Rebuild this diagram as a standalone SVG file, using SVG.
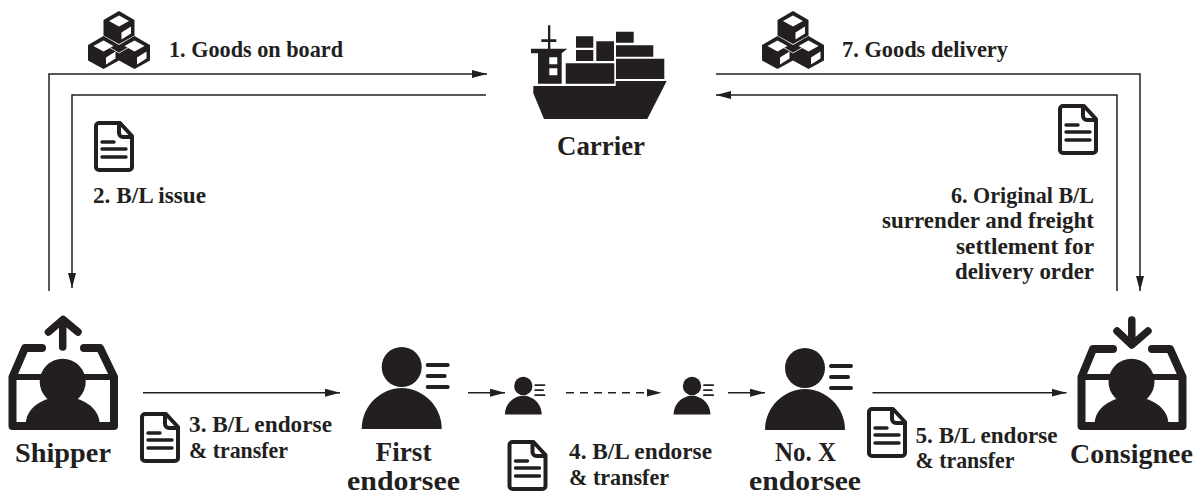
<svg xmlns="http://www.w3.org/2000/svg" xmlns:xlink="http://www.w3.org/1999/xlink" width="1200" height="496" viewBox="0 0 1200 496">
<style>
text{font-family:"Liberation Serif","DejaVu Serif",serif;font-weight:700;fill:#231f20;font-size:23px}
.n{font-size:27px}
.c{fill:none;stroke:#231f20;stroke-width:1.5}
.d{stroke-dasharray:8 6}
.k{fill:#231f20}
.w{fill:#fff}
.box{fill:none;stroke:#231f20;stroke-width:8;stroke-linecap:round;stroke-linejoin:round}
.fr{fill:none;stroke:#231f20;stroke-width:6}
.ar{fill:none;stroke:#231f20;stroke-width:7.500;stroke-linecap:round;stroke-linejoin:round}
</style>
<defs>
<marker id="a" markerUnits="userSpaceOnUse" markerWidth="16" markerHeight="10" refX="15" refY="4" orient="auto"><path d="M0,0L15,4L0,8z" fill="#231f20"/></marker>
<g id="doc">
<path d="M5,2H26L38,15V46a3,3 0 0 1-3,3H5a3,3 0 0 1-3-3V5a3,3 0 0 1 3-3z M25,3V12a4,4 0 0 0 4,4H38" fill="none" stroke="#231f20" stroke-width="4" stroke-linejoin="round"/>
<path d="M8,21H20M8,28H32M8,36H32" fill="none" stroke="#231f20" stroke-width="3.400" stroke-linecap="round"/>
</g>
<g id="cube">
<path class="k" d="M0,-16.500L15.500,-7.500V8L0,16.500L-15.500,8V-7.500z"/>
<path class="w" d="M0,-12L10,-6.500L0,-1L-10,-6.500z"/>
<path class="w" d="M2.500,5L12,-1V6L2.500,12z"/>
</g>
<g id="cubes">
<use xlink:href="#cube" x="15.500" y="41.500"/>
<use xlink:href="#cube" x="46.500" y="41.500"/>
<use xlink:href="#cube" x="31" y="16.500"/>
<path d="M15.500,33L31,42L46.500,33" fill="none" stroke="#fff" stroke-width="0.800"/>
</g>
<g id="person">
<circle class="k" r="20"/>
<path class="k" d="M-40,62C-40,38-20,21 0,21C20,21 40,38 40,62z"/>
<path d="M26,-2H46M26,9H43M26,20H46" fill="none" stroke="#231f20" stroke-width="4" stroke-linecap="round"/>
</g>
<g id="boxp">
<circle class="k" r="23"/>
<path class="k" d="M-37,43C-37,26-20,15 0,15C20,15 37,26 37,43z"/>
</g>
</defs>
<rect width="1200" height="496" fill="#fff"/>
<g id="connectors">
<path class="c" d="M49,291V74H487" marker-end="url(#a)"/>
<path class="c" d="M486,95H72V288" marker-end="url(#a)"/>
<path class="c" d="M716,74H1140V291" marker-end="url(#a)"/>
<path class="c" d="M1117,291V95H716" marker-end="url(#a)"/>
<path class="c" d="M143,392.700H340" marker-end="url(#a)"/>
<path class="c" d="M468,392.700H505" marker-end="url(#a)"/>
<path class="c d" d="M566,392.700H661.500" marker-end="url(#a)"/>
<path class="c" d="M728,392.700H765" marker-end="url(#a)"/>
<path class="c" d="M872.500,392.700H1066.500" marker-end="url(#a)"/>
</g>
<g id="carrier">
<path class="k" d="M533.300,86H615.700V81H666.700L647.300,119H544L533.300,93.300z"/>
<path class="k" d="M565.700,63.300H614.300V83.700H565.700zM616,58.700H664.300V79H616zM616,45.300H653.300V56.700H616zM616,31.700H633.700V42.700H616zM596.300,41.300H614V61H596.300zM576,36.300H593.300V47.700H576zM576,50H593.300V61H576z"/>
<path class="k" d="M548,25.300H550.300V39.300H556.300V42H550.300V48.700H567.300L561.700,53.300V83.700H538V53.300H531V48.700H548V42H541.300V39.300H548z"/>
<path class="w" d="M549.300,57.300H557.300V64.300H549.300zM549.300,68.300H557.300V75.300H549.300z"/>
<text x="557" y="155" class="n" textLength="88" lengthAdjust="spacingAndGlyphs">Carrier</text>
</g>
<g id="shipper">
<path class="box" d="M42,348H25L12.500,377V426H114V377L100,348H84"/>
<path class="fr" d="M12.500,377H114"/>
<use xlink:href="#boxp" x="62.700" y="381.700"/>
<path class="ar" d="M62.700,347V321M48.500,332L63,319.500L78,332"/>
<text x="15" y="462" class="n" textLength="96" lengthAdjust="spacingAndGlyphs">Shipper</text>
</g>
<g id="first-endorsee">
<use xlink:href="#person" transform="translate(401.700,367)"/>
<text x="375.500" y="461" class="n" textLength="56" lengthAdjust="spacingAndGlyphs">First</text>
<text x="347" y="490" class="n" textLength="113" lengthAdjust="spacingAndGlyphs">endorsee</text>
</g>
<g id="intermediate-1"><use xlink:href="#person" transform="translate(523.300,386) scale(0.460)"/></g>
<g id="intermediate-2"><use xlink:href="#person" transform="translate(692,386) scale(0.460)"/></g>
<g id="no-x-endorsee">
<use xlink:href="#person" transform="translate(805,368)"/>
<text x="775" y="461" class="n" textLength="61" lengthAdjust="spacingAndGlyphs">No. X</text>
<text x="749" y="490" class="n" textLength="112" lengthAdjust="spacingAndGlyphs">endorsee</text>
</g>
<g id="consignee">
<path class="box" d="M1113,349H1093L1081.500,377V426H1182.500V377L1170,349H1152"/>
<path class="fr" d="M1081.500,377H1182.500"/>
<use xlink:href="#boxp" x="1131.500" y="381.700"/>
<path class="ar" d="M1131.800,320V344M1117,331L1131.800,345L1148,331"/>
<text x="1070" y="463" class="n" textLength="123" lengthAdjust="spacingAndGlyphs">Consignee</text>
</g>
<g id="label-1">
<use xlink:href="#cubes" x="88" y="11"/>
<text x="169" y="57" textLength="174" lengthAdjust="spacingAndGlyphs">1. Goods on board</text>
</g>
<g id="label-2">
<use xlink:href="#doc" x="94" y="121"/>
<text x="93" y="203" textLength="113" lengthAdjust="spacingAndGlyphs">2. B/L issue</text>
</g>
<g id="label-3">
<use xlink:href="#doc" x="140" y="412"/>
<text x="189" y="432" textLength="143" lengthAdjust="spacingAndGlyphs">3. B/L endorse</text>
<text x="189" y="458" textLength="99" lengthAdjust="spacingAndGlyphs">&amp; transfer</text>
</g>
<g id="label-4">
<use xlink:href="#doc" x="507.500" y="440"/>
<text x="569" y="459" textLength="143" lengthAdjust="spacingAndGlyphs">4. B/L endorse</text>
<text x="569" y="485" textLength="100" lengthAdjust="spacingAndGlyphs">&amp; transfer</text>
</g>
<g id="label-5">
<use xlink:href="#doc" x="867" y="407"/>
<text x="915.500" y="443" textLength="142" lengthAdjust="spacingAndGlyphs">5. B/L endorse</text>
<text x="915.500" y="468" textLength="99" lengthAdjust="spacingAndGlyphs">&amp; transfer</text>
</g>
<g id="label-6">
<use xlink:href="#doc" x="1058" y="104"/>
<text x="951" y="203" textLength="143" lengthAdjust="spacingAndGlyphs">6. Original B/L</text>
<text x="882" y="228" textLength="212" lengthAdjust="spacingAndGlyphs">surrender and freight</text>
<text x="956" y="254" textLength="138" lengthAdjust="spacingAndGlyphs">settlement for</text>
<text x="955" y="279" textLength="139" lengthAdjust="spacingAndGlyphs">delivery order</text>
</g>
<g id="label-7">
<use xlink:href="#cubes" x="762" y="11"/>
<text x="842" y="57" textLength="166" lengthAdjust="spacingAndGlyphs">7. Goods delivery</text>
</g>
</svg>
